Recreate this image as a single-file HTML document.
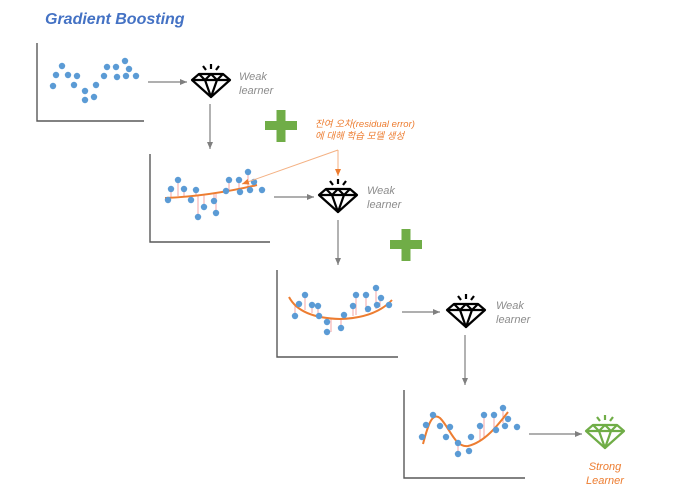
<!DOCTYPE html>
<html><head><meta charset="utf-8"><style>
html,body{margin:0;padding:0;background:#fff;}
svg{display:block;}
text{font-family:"Liberation Sans","Noto Sans CJK KR",sans-serif;}
</style></head><body>
<svg width="692" height="499" viewBox="0 0 692 499" xmlns="http://www.w3.org/2000/svg">
<defs>
<marker id="ag" markerWidth="8" markerHeight="8" refX="7" refY="4" orient="auto" markerUnits="userSpaceOnUse"><path d="M0,1 L7,4 L0,7 z" fill="#7f7f7f"/></marker>
<marker id="ao" markerWidth="8" markerHeight="8" refX="7" refY="4" orient="auto" markerUnits="userSpaceOnUse"><path d="M0,1 L7,4 L0,7 z" fill="#ed7d31"/></marker>
<g id="dia" fill="none" stroke-width="2.2" stroke-linejoin="round">
<path d="M-12,-8 L12,-8 L19,-2 L0,15 L-19,-2 Z"/>
<path d="M-19,-2 L19,-2 M-12,-8 L-6,-2 L0,15 L6,-2 L12,-8 M-6,-2 L0,-8 L6,-2"/>
<path d="M0,-18 L0,-13 M-8,-16 L-5,-12 M8,-16 L5,-12"/>
</g>
</defs>
<text x="45" y="24" font-size="16" font-weight="bold" font-style="italic" fill="#4472c4">Gradient Boosting</text>

<g stroke="#595959" stroke-width="1.4" fill="none">
<path d="M37,43 L37,121 L144,121"/>
<path d="M150,154 L150,242 L270,242"/>
<path d="M277,270 L277,357 L398,357"/>
<path d="M404,390 L404,478 L525,478"/>
</g>

<g fill="#5b9bd5">
<circle cx="53" cy="86" r="3.2"/><circle cx="56" cy="75" r="3.2"/><circle cx="62" cy="66" r="3.2"/><circle cx="68" cy="75" r="3.2"/><circle cx="77" cy="76" r="3.2"/><circle cx="74" cy="85" r="3.2"/><circle cx="85" cy="91" r="3.2"/><circle cx="85" cy="100" r="3.2"/><circle cx="94" cy="97" r="3.2"/><circle cx="96" cy="85" r="3.2"/><circle cx="104" cy="76" r="3.2"/><circle cx="107" cy="67" r="3.2"/><circle cx="116" cy="67" r="3.2"/><circle cx="125" cy="61" r="3.2"/><circle cx="129" cy="69" r="3.2"/><circle cx="117" cy="77" r="3.2"/><circle cx="126" cy="76" r="3.2"/><circle cx="136" cy="76" r="3.2"/>
</g>

<g stroke="#f4a6a6" stroke-width="1">
<path d="M171,189 V197 M178,180 V196 M184,189 V196 M196,190 V195 M198,217 V195 M204,207 V194 M214,201 V194 M216,213 V194 M226,191 V192 M229,180 V191 M239,180 V190 M248,172 V188 M254,182 V187"/>
</g>
<path d="M165,198 Q210,196 257,185" stroke="#ed7d31" stroke-width="2" fill="none"/>
<g fill="#5b9bd5">
<circle cx="168" cy="200" r="3.2"/><circle cx="171" cy="189" r="3.2"/><circle cx="178" cy="180" r="3.2"/><circle cx="184" cy="189" r="3.2"/><circle cx="196" cy="190" r="3.2"/><circle cx="191" cy="200" r="3.2"/><circle cx="198" cy="217" r="3.2"/><circle cx="204" cy="207" r="3.2"/><circle cx="214" cy="201" r="3.2"/><circle cx="216" cy="213" r="3.2"/><circle cx="226" cy="191" r="3.2"/><circle cx="229" cy="180" r="3.2"/><circle cx="239" cy="180" r="3.2"/><circle cx="240" cy="192" r="3.2"/><circle cx="248" cy="172" r="3.2"/><circle cx="254" cy="182" r="3.2"/><circle cx="250" cy="190" r="3.2"/><circle cx="262" cy="190" r="3.2"/>
</g>

<g stroke="#f4a6a6" stroke-width="1">
<path d="M295,316 V305 M305,295 V310 M312,305 V313 M318,306 V315 M327,322 V318 M331,332 V318 M341,328 V318 M353,306 V316 M356,295 V315 M366,295 V312 M369,309 V311 M376,288 V309 M380,298 V307"/>
</g>
<path d="M289,297 Q300,318 340,319 Q375,318 392,300" stroke="#ed7d31" stroke-width="2" fill="none"/>
<g fill="#5b9bd5">
<circle cx="295" cy="316" r="3.2"/><circle cx="299" cy="304" r="3.2"/><circle cx="305" cy="295" r="3.2"/><circle cx="312" cy="305" r="3.2"/><circle cx="318" cy="306" r="3.2"/><circle cx="319" cy="316" r="3.2"/><circle cx="327" cy="322" r="3.2"/><circle cx="327" cy="332" r="3.2"/><circle cx="341" cy="328" r="3.2"/><circle cx="344" cy="315" r="3.2"/><circle cx="353" cy="306" r="3.2"/><circle cx="356" cy="295" r="3.2"/><circle cx="366" cy="295" r="3.2"/><circle cx="368" cy="309" r="3.2"/><circle cx="376" cy="288" r="3.2"/><circle cx="381" cy="298" r="3.2"/><circle cx="377" cy="305" r="3.2"/><circle cx="389" cy="305" r="3.2"/>
</g>

<g stroke="#f4a6a6" stroke-width="1">
<path d="M458,443 V440 M458,454 V444 M480,426 V441 M484,415 V437 M494,415 V432 M503,408 V423"/>
</g>
<path d="M423,444 C428,425 432,412 440,418 C450,428 455,448 468,446 C485,442 498,425 508,412" stroke="#ed7d31" stroke-width="2" fill="none"/>
<g fill="#5b9bd5">
<circle cx="422" cy="437" r="3.2"/><circle cx="426" cy="425" r="3.2"/><circle cx="433" cy="415" r="3.2"/><circle cx="440" cy="426" r="3.2"/><circle cx="446" cy="437" r="3.2"/><circle cx="450" cy="427" r="3.2"/><circle cx="458" cy="443" r="3.2"/><circle cx="458" cy="454" r="3.2"/><circle cx="469" cy="451" r="3.2"/><circle cx="471" cy="437" r="3.2"/><circle cx="480" cy="426" r="3.2"/><circle cx="484" cy="415" r="3.2"/><circle cx="494" cy="415" r="3.2"/><circle cx="496" cy="430" r="3.2"/><circle cx="503" cy="408" r="3.2"/><circle cx="508" cy="419" r="3.2"/><circle cx="505" cy="426" r="3.2"/><circle cx="517" cy="427" r="3.2"/>
</g>

<g stroke="#7f7f7f" stroke-width="1.2" fill="none">
<path d="M148,82 L187,82" marker-end="url(#ag)"/>
<path d="M210,104 L210,149" marker-end="url(#ag)"/>
<path d="M274,197 L314,197" marker-end="url(#ag)"/>
<path d="M338,220 L338,265" marker-end="url(#ag)"/>
<path d="M402,312 L440,312" marker-end="url(#ag)"/>
<path d="M465,335 L465,385" marker-end="url(#ag)"/>
<path d="M529,434 L582,434" marker-end="url(#ag)"/>
</g>

<use href="#dia" x="211" y="82" stroke="#000"/>
<use href="#dia" x="338" y="197" stroke="#000"/>
<use href="#dia" x="466" y="312" stroke="#000"/>
<use href="#dia" x="605" y="433" stroke="#70ad47"/>

<g font-size="11" font-style="italic" fill="#8c8c8c">
<text x="239" y="80">Weak</text><text x="239" y="94">learner</text>
<text x="367" y="194">Weak</text><text x="367" y="208">learner</text>
<text x="496" y="309">Weak</text><text x="496" y="323">learner</text>
</g>
<g font-size="11" font-style="italic" fill="#ed7d31" text-anchor="middle">
<text x="605" y="470">Strong</text><text x="605" y="484">Learner</text>
</g>

<g fill="#70ad47">
<rect x="265" y="121" width="32" height="9"/><rect x="276.5" y="110" width="9" height="32"/>
<rect x="390" y="240" width="32" height="9"/><rect x="401.5" y="229" width="9" height="32"/>
</g>

<g font-size="9.5" font-style="italic" fill="#ed7d31">
<text x="315" y="127">잔여 오차(residual error)</text>
<text x="315" y="139">에 대해 학습 모델 생성</text>
</g>
<g stroke="#f4b183" stroke-width="1" fill="none">
<path d="M338,150 L338,176" marker-end="url(#ao)"/>
<path d="M338,150 L242,184" marker-end="url(#ao)"/>
</g>
</svg>
</body></html>
